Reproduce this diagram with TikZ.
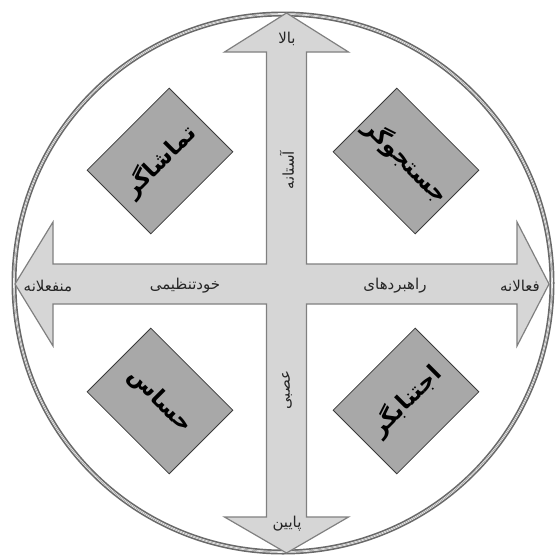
\documentclass[tikz,border=0pt]{standalone}
\usepackage{fontspec}
\TeXXeTstate=1
\newfontfamily\fa[Script=Arabic]{DejaVu Sans}
\definecolor{arrowfill}{HTML}{D6D6D6}
\definecolor{arrowline}{HTML}{808080}
\definecolor{boxfill}{HTML}{A8A8A8}
\definecolor{boxline}{HTML}{3A3A3A}
\definecolor{ringline}{HTML}{6A6A6A}
\tikzset{
  lbl/.style={font=\fa\fontsize{15}{17}\selectfont, text=black!85, inner sep=1pt},
  quad/.style={draw=boxline, fill=boxfill, line width=0.8pt, minimum width=116pt, minimum height=90pt, inner sep=0pt,
    font=\fa\bfseries\fontsize{23}{26}\selectfont, text=black},
}
\begin{document}
\begin{tikzpicture}[x=1pt,y=-1pt]
\useasboundingbox (0,0) rectangle (555,560);
\fill[white] (0,0) rectangle (555,560);
% ring
\draw[ringline, line width=5pt] (283,283) circle (269);
\draw[white, line width=1.6pt] (283,283) circle (269);
\draw[ringline!70, line width=0.5pt] (283,283) circle (269);
% cross of arrows
\draw[draw=arrowline, fill=arrowfill, line width=1.2pt, line join=miter]
 (286.5,13) -- (348.5,52) -- (306.5,52) -- (306.5,264) -- (517,264) -- (517,222)
 -- (549,284) -- (517,346) -- (517,304) -- (306.5,304) -- (306.5,517) -- (348.5,517)
 -- (286.5,553) -- (224.5,517) -- (266.5,517) -- (266.5,304) -- (53,304) -- (53,346)
 -- (15,284) -- (53,222) -- (53,264) -- (266.5,264) -- (266.5,52) -- (224.5,52) -- cycle;
% quadrant boxes
\node[quad, rotate=45] (tl) at (160,161) {\beginR تماشاگر\endR};
\node[quad, rotate=-45] (tr) at (406,161) {\beginR جستجوگر\endR};
\node[quad, rotate=-45] (bl) at (160,401) {\beginR حساس\endR};
\node[quad, rotate=45] (br) at (406,401) {\beginR اجتنابگر\endR};
% arrow labels
\node[lbl] (up) at (287,39) {\beginR بالا\endR};
\node[lbl] (down) at (287,524) {\beginR پایین\endR};
\node[lbl] (left) at (48,286) {\beginR منفعلانه\endR};
\node[lbl] (right) at (520,286) {\beginR فعالانه\endR};
\node[lbl] (selfreg) at (185,286) {\beginR خودتنظیمی\endR};
\node[lbl] (strat) at (395,286) {\beginR راهبردهای\endR};
\node[lbl, rotate=90] (thr) at (287,170) {\beginR آستانه\endR};
\node[lbl, rotate=90] (neur) at (287,390) {\beginR عصبی\endR};
\end{tikzpicture}
\end{document}
